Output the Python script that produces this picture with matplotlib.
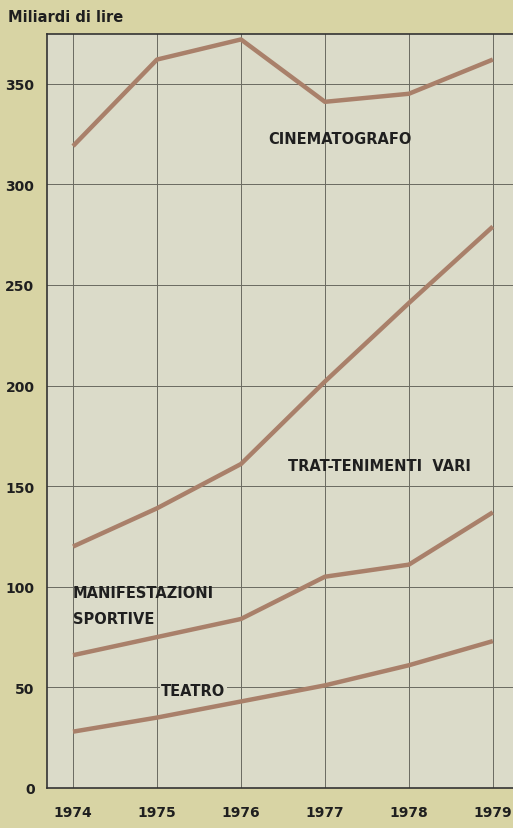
import matplotlib
matplotlib.use('Agg')
import matplotlib.pyplot as plt

years = [1974, 1975, 1976, 1977, 1978, 1979]
cinematografo = [319, 362, 372, 341, 345, 362]
trattenimenti = [120, 139, 161, 202, 241, 279]
manifestazioni = [66, 75, 84, 105, 111, 137]
teatro = [28, 35, 43, 51, 61, 73]
yticks = [0, 50, 100, 150, 200, 250, 300, 350]

plt.rcParams['font.family'] = ['DejaVu Sans']

outer_bg = '#d8d4a4'
inner_bg = '#dbdbc9'
line_col = '#a9806a'
txt = '#1f1f1f'

fig = plt.figure(figsize=(5.13, 8.29), dpi=100)
fig.patch.set_facecolor(outer_bg)
ax = fig.add_axes([47 / 513, 1 - 789 / 829, 1 - 47 / 513, (789 - 35) / 829])
ax.set_facecolor(inner_bg)

for s in [cinematografo, trattenimenti, manifestazioni, teatro]:
    ax.plot(years, s, color=line_col, lw=3.2, solid_capstyle='butt', zorder=3)

ax.set_xlim(1973.69, 1979.24)
ax.set_ylim(0, 374.7)
ax.set_xticks(years)
ax.set_yticks(yticks)
ax.set_xticklabels([str(y) for y in years], fontsize=10, fontweight='bold', color=txt)
ax.set_yticklabels([str(v) for v in yticks], fontsize=10, fontweight='bold', color=txt)
ax.tick_params(length=0, pad=9)
ax.tick_params(axis='x', pad=12)
ax.grid(True, color='#6a6a60', lw=0.7)
ax.set_axisbelow(True)
for side in ['left', 'bottom', 'top']:
    ax.spines[side].set_color('#333333')
    ax.spines[side].set_linewidth(1.2)
ax.spines['right'].set_visible(False)

lab = dict(fontsize=10.5, fontweight='bold', color=txt, zorder=4)
ax.text(1977.18, 323, 'CINEMATOGRAFO', ha='center', va='center', **lab)
ax.text(1977.65, 160.5, 'TRAT-TENIMENTI  VARI', ha='center', va='center', **lab)
ax.text(1974.0, 97, 'MANIFESTAZIONI', ha='left', va='center', **lab)
ax.text(1974.0, 84, 'SPORTIVE', ha='left', va='center', **lab)
ax.text(1975.05, 48.5, 'TEATRO', ha='left', va='center',
        bbox=dict(facecolor=inner_bg, edgecolor='none', pad=1), **lab)

fig.text(8 / 513, 1 - 18 / 829, 'Miliardi di lire', fontsize=10.5, fontweight='bold',
         color=txt, ha='left', va='center')

fig.savefig('out.png', dpi=100, facecolor=outer_bg)
